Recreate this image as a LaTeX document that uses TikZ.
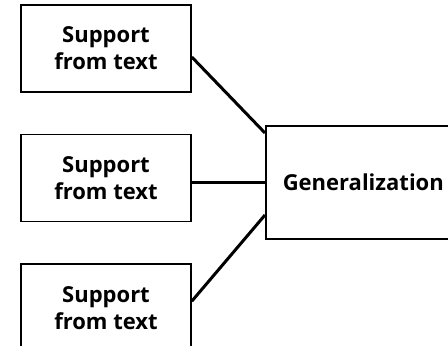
\documentclass[tikz,border=0pt]{standalone}
\usepackage{fontspec}
\setmainfont{Open Sans}
\usetikzlibrary{positioning}

\begin{document}
\begin{tikzpicture}[
			x=1pt, y=-1pt,
			supportbox/.style={draw, line width=1.6pt, rectangle, minimum width=170pt, minimum height=87pt, align=center, font=\fontsize{22}{27}\selectfont\bfseries},
			genbox/.style={draw, line width=1.6pt, rectangle, minimum width=200pt, minimum height=113pt, align=center, font=\fontsize{22}{27}\selectfont\bfseries},
			link/.style={line width=3pt}
		]
		\useasboundingbox (0,0) rectangle (448,346);
		\clip (0,0) rectangle (448,346);
		\node[supportbox] (s1) at (106,48.5) {Support\\from text};
		\node[supportbox, below=41pt of s1] (s2) {Support\\from text};
		\node[supportbox, below=41pt of s2] (s3) {Support\\from text};
		\node[genbox, anchor=west] (gen) at (265,182.5) {\hspace*{-5pt}Generalization};

		\draw[link] ([yshift=-8.5pt]s1.east) -- ([yshift=49.5pt]gen.west);
		\draw[link] ([yshift=-4.5pt]s2.east) -- ([yshift=-4.5pt]s2.east -| gen.west);
		\draw[link] ([yshift=6.5pt]s3.east) -- ([yshift=-32.5pt]gen.west);
	\end{tikzpicture}
\end{document}
